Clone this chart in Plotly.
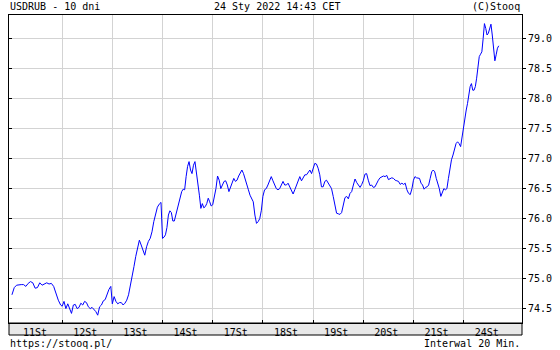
import numpy as np
import plotly.graph_objects as go

# ---- data (USDRUB, 20-minute bars, last 10 sessions) ----
day_labels = ["11St", "12St", "13St", "14St", "17St", "18St", "19St", "20St", "21St", "24St"]

d11 = [74.72, 74.84, 74.88, 74.89, 74.89, 74.89, 74.86, 74.91, 74.94, 74.92, 74.83,
       74.84, 74.92, 74.88, 74.90, 74.92, 74.90, 74.91, 74.86, 74.74, 74.63, 74.55]
d12 = [74.53, 74.61, 74.49, 74.57, 74.48, 74.41, 74.55, 74.56, 74.49, 74.51, 74.58,
       74.55, 74.61, 74.59, 74.52, 74.49, 74.51, 74.48, 74.44, 74.38, 74.52, 74.55,
       74.62, 74.64, 74.73, 74.81, 74.86]
d13 = [74.57, 74.69, 74.61, 74.57, 74.59, 74.59, 74.55, 74.58, 74.63, 74.72, 74.86,
       75.02, 75.19, 75.36, 75.52, 75.63, 75.55, 75.47, 75.38, 75.52, 75.61, 75.66,
       75.77, 75.94, 76.05, 76.18, 76.23, 76.26]
d14 = [75.66, 75.68, 75.72, 75.84, 76.05, 76.12, 76.09, 75.95, 75.95, 76.05, 76.13,
       76.22, 76.33, 76.44, 76.48, 76.47, 76.69, 76.86, 76.94, 76.80, 76.74, 76.88,
       76.94, 76.77, 76.61, 76.38, 76.16, 76.24, 76.17, 76.19, 76.24, 76.33, 76.27,
       76.20]
d17 = [76.22, 76.33, 76.49, 76.70, 76.63, 76.49, 76.55, 76.61, 76.62, 76.55, 76.44,
       76.52, 76.61, 76.66, 76.61, 76.63, 76.70, 76.76, 76.80, 76.74, 76.66, 76.57,
       76.47, 76.38, 76.33, 76.27, 76.05, 75.91, 75.94, 75.99, 76.13]
d18 = [76.36, 76.47, 76.49, 76.55, 76.63, 76.69, 76.62, 76.55, 76.49, 76.47, 76.49,
       76.55, 76.61, 76.55, 76.55, 76.58, 76.51, 76.44, 76.40, 76.47, 76.55, 76.63,
       76.69, 76.62, 76.66, 76.72, 76.72, 76.77, 76.80, 76.74]
d19 = [76.83, 76.91, 76.90, 76.83, 76.72, 76.52, 76.52, 76.61, 76.63, 76.58, 76.55,
       76.49, 76.36, 76.19, 76.08, 76.07, 76.06, 76.09, 76.22, 76.34, 76.36, 76.32,
       76.41, 76.44, 76.55, 76.65, 76.59, 76.55, 76.51, 76.56]
d20 = [76.62, 76.73, 76.74, 76.63, 76.54, 76.55, 76.51, 76.52, 76.58, 76.63, 76.67,
       76.69, 76.70, 76.69, 76.71, 76.64, 76.66, 76.67, 76.66, 76.63, 76.62, 76.61,
       76.56, 76.58, 76.56, 76.58, 76.47, 76.41, 76.39, 76.49]
d21 = [76.63, 76.69, 76.67, 76.66, 76.66, 76.58, 76.55, 76.48, 76.51, 76.52, 76.55,
       76.66, 76.77, 76.80, 76.77, 76.66, 76.58, 76.49, 76.36, 76.44, 76.49, 76.47,
       76.49, 76.66, 76.86, 76.97, 77.05, 77.16, 77.24, 77.27, 77.24, 77.19, 77.38]
d24 = [77.55, 77.72, 77.80, 77.91, 78.05, 78.19, 78.24, 78.13, 78.13, 78.19, 78.33,
       78.49, 78.69, 78.73, 78.77, 78.99, 79.24, 79.16, 79.05, 79.08, 79.16, 79.23,
       79.05, 78.83, 78.62, 78.72, 78.83, 78.87]

days = [d11, d12, d13, d14, d17, d18, d19, d20, d21, d24]
y_ticks = [74.5, 75.0, 75.5, 76.0, 76.5, 77.0, 77.5, 78.0, 78.5, 79.0]

FULL_SESSION_SPAN = 0.97   # share of a day slot covered by a complete session
LAST_SESSION_SPAN = 0.70   # share covered by today's session up to 14:43

xs, ys = [], []
for i, vals in enumerate(days):
    span = FULL_SESSION_SPAN if i < len(days) - 1 else LAST_SESSION_SPAN
    xs.extend(np.linspace(i, i + span, len(vals)))
    ys.extend(vals)

GRID = "#d3d3d3"
FONT = "DejaVu Sans Mono"

fig = go.Figure()
fig.add_trace(go.Scatter(x=xs, y=ys, mode="lines",
                         line=dict(color="#0000ff", width=1), hoverinfo="skip"))
# helper trace so the left (inward tick) axis gets drawn
fig.add_trace(go.Scatter(x=[xs[0]], y=[ys[0]], yaxis="y2", mode="markers",
                         marker=dict(opacity=0), hoverinfo="skip"))

fig.update_layout(
    width=560, height=350,
    margin=dict(l=8, r=30, t=15, b=27),
    paper_bgcolor="white", plot_bgcolor="white",
    showlegend=False,
    font=dict(family=FONT, size=10, color="black"),
    xaxis=dict(
        range=[-0.0587, 10.163],
        tickmode="array",
        tickvals=[i + 0.46 for i in range(len(day_labels))],
        ticktext=day_labels,
        ticks="", showgrid=False, zeroline=False,
        showline=True, linecolor="black", linewidth=1, mirror=True,
        ticklabelstandoff=0,
        minor=dict(tickmode="array", tickvals=list(range(1, len(day_labels))),
                   showgrid=True, gridcolor=GRID, gridwidth=1,
                   ticks="inside", ticklen=3, tickcolor="black", tickwidth=1),
        fixedrange=True,
    ),
    yaxis=dict(
        range=[74.25, 79.3833],
        side="right",
        tickmode="array", tickvals=y_ticks,
        ticktext=[f"{v:.1f}" for v in y_ticks],
        ticks="outside", ticklen=3, tickcolor="black", tickwidth=1,
        showgrid=True, gridcolor=GRID, gridwidth=1, zeroline=False,
        showline=True, linecolor="black", linewidth=1, mirror=True,
        fixedrange=True,
    ),
    yaxis2=dict(
        overlaying="y", matches="y", side="left",
        tickmode="array", tickvals=y_ticks,
        ticks="inside", ticklen=3, tickcolor="black",
        showticklabels=False, showgrid=False, zeroline=False, showline=False,
    ),
)

# grey date band under the plot
fig.add_shape(type="rect", xref="paper", yref="paper",
              x0=0, x1=1, y0=-12 / 308, y1=0,
              fillcolor="#e8e8e8", line=dict(color="black", width=1), layer="below")

ann = dict(xref="paper", yref="paper", showarrow=False,
           font=dict(family=FONT, size=10, color="black"), yanchor="middle")
fig.add_annotation(text="USDRUB - 10 dni", x=-0.002, y=1.026, xanchor="left", **ann)
fig.add_annotation(text="24 Sty 2022 14:43 CET", x=0.523, y=1.026, xanchor="center", **ann)
fig.add_annotation(text="(C)Stooq", x=1.0, y=1.026, xanchor="right", **ann)
fig.add_annotation(text="https://stooq.pl/", x=-0.002, y=-0.068, xanchor="left", **ann)
fig.add_annotation(text="Interwal 20 Min.", x=1.0, y=-0.068, xanchor="right", **ann)

fig.write_html("out.html")
